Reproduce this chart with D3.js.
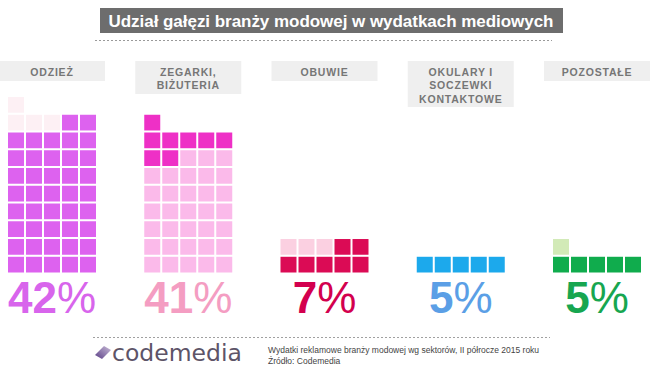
<!DOCTYPE html>
<html>
<head>
<meta charset="utf-8">
<script src="https://cdn.jsdelivr.net/npm/d3@7"></script>
<style>
  body { margin: 0; background: #fff; }
  text { font-family: "Liberation Sans", Arial, sans-serif; }
</style>
</head>
<body>
<div id="wrapper"></div>
<script>
const title = "Udział gałęzi branży modowej w wydatkach mediowych";
const categories = ["ODZIEŻ", "ZEGARKI, BIŻUTERIA", "OBUWIE", "OKULARY I SOCZEWKI KONTAKTOWE", "POZOSTAŁE"];
const labelLines = [["ODZIEŻ"], ["ZEGARKI,", "BIŻUTERIA"], ["OBUWIE"], ["OKULARY I", "SOCZEWKI", "KONTAKTOWE"], ["POZOSTAŁE"]];
const percents = [42, 41, 7, 5, 5];
// runs of cells, filled left to right, bottom to top: [count, shade] (0 = strong, 1 = pale)
const cellRuns = [
    [[40, 0], [3, 1], [2, 0], [1, 1]],
    [[30, 1], [2, 0], [3, 1], [6, 0]],
    [[5, 0], [3, 1], [2, 0]],
    [[5, 0]],
    [[5, 0], [1, 1]]
];
const strongColors = ["#dd62ef", "#ee30c6", "#db0b55", "#1ca9ec", "#10ac4d"];
const paleColors = ["#fdf0f4", "#fbbaea", "#fbd0e1", "#bfe4f8", "#d2eab7"];
const percentColors = ["#d865ec", "#f49dc2", "#d3004e", "#5b9fe6", "#17a650"];
const footerLines = ["Wydatki reklamowe branży modowej wg sektorów, II półrocze 2015 roku", "Źródło: Codemedia"];

const dimension = { width: 655, height: 372 };
const cols = 5, maxRows = 10;

const svg = d3.select("#wrapper").append("svg")
    .attr("width", dimension.width)
    .attr("height", dimension.height);

// title bar
svg.append("rect")
    .attr("x", 100).attr("y", 8).attr("width", 463).attr("height", 25)
    .attr("fill", "#6d6d6d");
svg.append("text")
    .attr("x", 331).attr("y", 26.5)
    .attr("text-anchor", "middle")
    .attr("fill", "#fff")
    .style("font-size", "17px")
    .style("font-weight", "bold")
    .attr("textLength", 445)
    .attr("lengthAdjust", "spacing")
    .text(title);
svg.append("line")
    .attr("x1", 95).attr("x2", 552).attr("y1", 40.5).attr("y2", 40.5)
    .attr("stroke", "#9a9a9a").attr("stroke-dasharray", "2,2");

// scales
const groupX = d3.scalePoint().domain(categories).range([52, 597]);
const colX = d3.scaleBand().domain(d3.range(cols)).range([-44, 44]).paddingInner(2 / 18);
const rowY = d3.scaleBand().domain(d3.range(maxRows)).range([272.5, 97]).paddingInner(2 / 17.5);

const groups = svg.selectAll("g.cat")
    .data(categories.map((c, i) => ({
        name: c, i,
        lines: labelLines[i],
        pct: percents[i],
        cells: cellRuns[i].flatMap(([n, s]) => d3.range(n).map(() => s)).map((s, k) => ({ s, k }))
    })))
    .join("g")
    .attr("class", "cat")
    .attr("transform", d => `translate(${groupX(d.name)},0)`);

// label boxes
groups.append("rect")
    .attr("x", -53).attr("y", 61).attr("width", 106)
    .attr("height", d => 7 + 13 * d.lines.length)
    .attr("fill", "#efefef");
groups.each(function (d) {
    const t = d3.select(this).append("text")
        .attr("text-anchor", "middle")
        .attr("fill", "#767676")
        .style("font-size", "10.5px")
        .style("font-weight", "bold")
        .style("letter-spacing", "0.8px");
    d.lines.forEach((l, j) => t.append("tspan").attr("x", 0).attr("y", 75.5 + j * 13.5).text(l));
});

// waffle cells
groups.selectAll("rect.cell")
    .data(d => d.cells.map(c => ({ ...c, i: d.i })))
    .join("rect")
    .attr("class", "cell")
    .attr("x", c => colX(c.k % cols))
    .attr("y", c => rowY(Math.floor(c.k / cols)))
    .attr("width", colX.bandwidth())
    .attr("height", rowY.bandwidth())
    .attr("fill", c => c.s === 0 ? strongColors[c.i] : paleColors[c.i]);

// percentages
const pct = groups.append("text")
    .attr("x", 0).attr("y", 313)
    .attr("text-anchor", "middle")
    .attr("fill", d => percentColors[d.i])
    .style("font-size", "44px");
pct.append("tspan").style("font-weight", "bold").text(d => d.pct);
pct.append("tspan").text("%");

// footer
svg.append("line")
    .attr("x1", 93).attr("x2", 550).attr("y1", 337.5).attr("y2", 337.5)
    .attr("stroke", "#a0a0a0").attr("stroke-dasharray", "2,2");

const grad = svg.append("defs").append("linearGradient")
    .attr("id", "logoGrad").attr("x1", "0").attr("y1", "1").attr("x2", "1").attr("y2", "0");
grad.append("stop").attr("offset", "0").attr("stop-color", "#5b3f86");
grad.append("stop").attr("offset", "1").attr("stop-color", "#c9bcd8");
svg.append("path")
    .attr("d", "M95,355 L104,346 L111,350 L102,359 Z")
    .attr("fill", "url(#logoGrad)");
svg.append("text")
    .attr("x", 112).attr("y", 361)
    .attr("fill", "#5d5468")
    .style("font-family", "'DejaVu Sans', sans-serif")
    .style("font-size", "23.5px")
    .text("codemedia");

const foot = svg.append("text")
    .attr("fill", "#444")
    .style("font-size", "8.5px");
footerLines.forEach((l, j) => foot.append("tspan").attr("x", 268).attr("y", 353 + j * 10.5).text(l));
</script>
</body>
</html>
